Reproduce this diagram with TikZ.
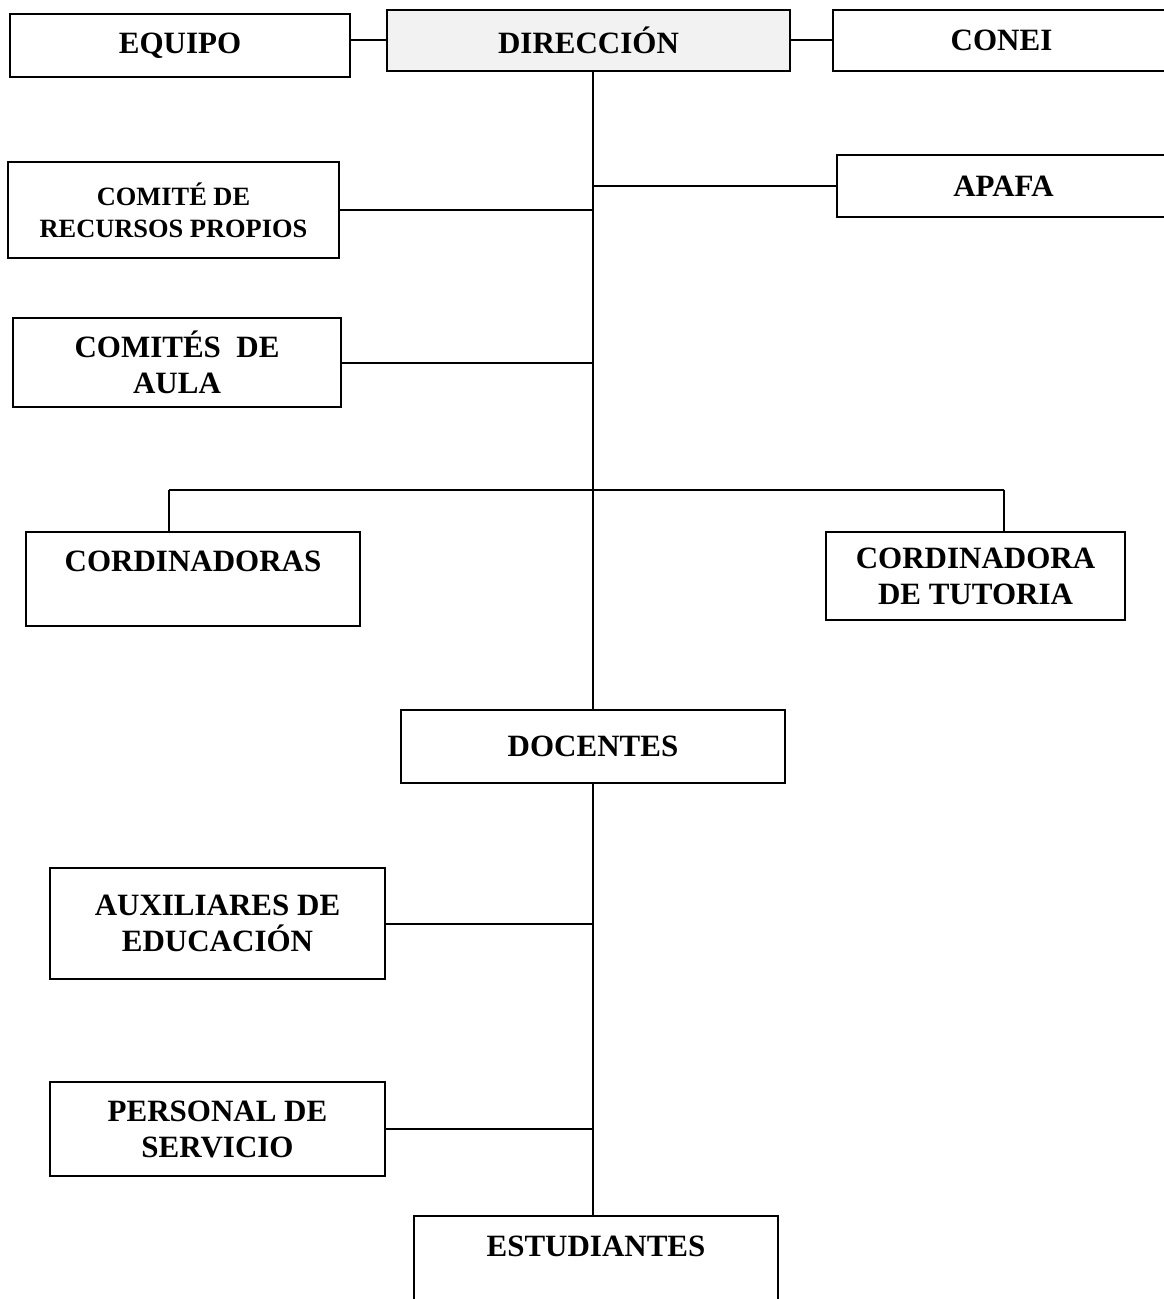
\documentclass[tikz,border=0pt]{standalone}
\usepackage{fontspec}
\setmainfont{Liberation Serif}
\begin{document}
\begin{tikzpicture}[x=0.5pt,y=-0.5pt,
  caja/.style={draw=cajadraw, line width=1.2pt, inner sep=0pt, align=center,
    text=cajatext, font=\bfseries\fontsize{15.5}{18}\selectfont},
  linea/.style={draw=cajadraw, line width=1pt}]
\useasboundingbox (0,0) rectangle (1163,1299);
%Colors used in the chart.
\definecolor{cajadraw}{RGB}{0,0,0}
\definecolor{cajatext}{RGB}{0,0,0}
\definecolor{dirfill}{RGB}{242,242,242}

\node(equipo) at (180,45.5) [caja, minimum width=170pt, minimum height=31.5pt] {EQUIPO};
\node(direccion) at (588.5,40.5) [caja, fill=dirfill, minimum width=201.5pt, minimum height=30.5pt] {DIRECCIÓN};
\node(conei) at (1001.5,40.5) [caja, minimum width=168.5pt, minimum height=30.5pt] {CONEI};

\node(recursos) at (173.5,210) [caja, minimum width=165.5pt, minimum height=48pt,
  font=\bfseries\fontsize{13.2}{16}\selectfont] {COMITÉ DE\\RECURSOS PROPIOS};
\node(apafa) at (1003.5,186) [caja, minimum width=166.5pt, minimum height=31pt] {APAFA};
\node(aula) at (177,362.5) [caja, minimum width=164pt, minimum height=44.5pt] {COMITÉS~ DE\\AULA};

\node(cordinadoras) at (193,579) [caja, minimum width=167pt, minimum height=47pt] {CORDINADORAS\\~};
\node(tutoria) at (975.5,576) [caja, minimum width=149.5pt, minimum height=44pt] {CORDINADORA\\DE TUTORIA};

\node(docentes) at (593,746.5) [caja, minimum width=192pt, minimum height=36.5pt] {DOCENTES};
\node(auxiliares) at (217.5,923.5) [caja, minimum width=167.5pt, minimum height=55.5pt] {AUXILIARES DE\\EDUCACIÓN};
\node(personal) at (217.5,1129) [caja, minimum width=167.5pt, minimum height=47pt] {PERSONAL DE\\SERVICIO};
\node(estudiantes) at (596,1215) [caja, anchor=north, minimum width=182pt,
  text height=20pt, text depth=40pt] {ESTUDIANTES};

\coordinate(ramaizq) at (169,490);
\coordinate(ramader) at (1004,490);

\draw[linea] (direccion.west) -- (direccion.west -| equipo.east);
\draw[linea] (direccion.east) -- (direccion.east -| conei.west);
\draw[linea] (docentes.north) -- (docentes.north |- direccion.south);
\draw[linea] (docentes.south) -- (docentes.south |- estudiantes.north);
\draw[linea] (recursos.east) -- (recursos.east -| docentes.north);
\draw[linea] (apafa.west) -- (apafa.west -| docentes.north);
\draw[linea] (aula.east) -- (aula.east -| docentes.north);
\draw[linea] (ramaizq) -- (ramader);
\draw[linea] (ramaizq) -- (ramaizq |- cordinadoras.north);
\draw[linea] (ramader) -- (ramader |- tutoria.north);
\draw[linea] (auxiliares.east) -- (auxiliares.east -| docentes.north);
\draw[linea] (personal.east) -- (personal.east -| docentes.north);
\end{tikzpicture}
\end{document}
